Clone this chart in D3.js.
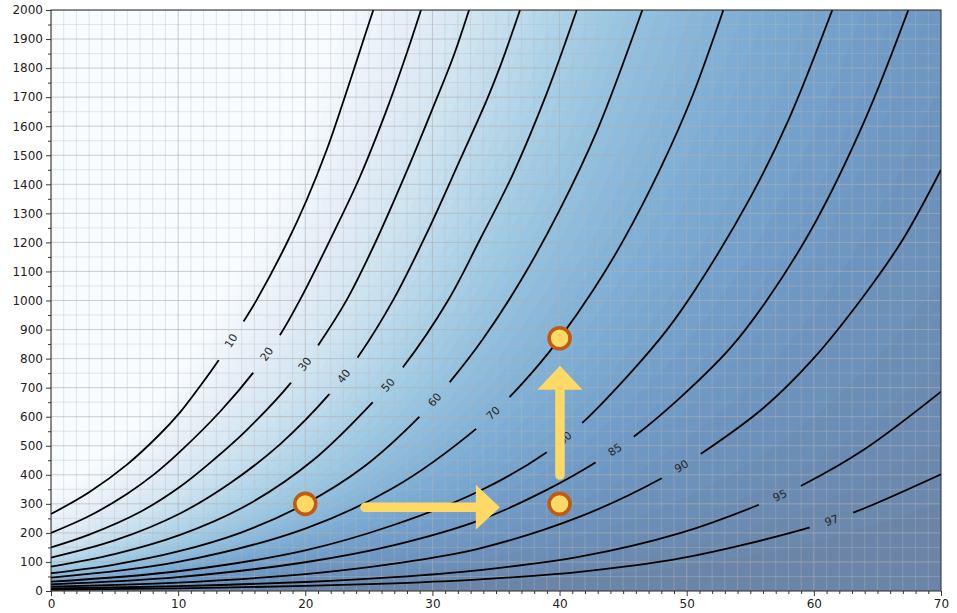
<!DOCTYPE html>
<html><head><meta charset="utf-8">
<script src="https://cdn.jsdelivr.net/npm/d3@7"></script>
<style>
body{margin:0;background:#fff}
svg{display:block}
text{font-family:"DejaVu Sans",sans-serif}
</style>
</head><body>
<svg id="chart" width="957" height="613"></svg>
<script>
// ---------------- data ----------------
const levels = [10, 20, 30, 40, 50, 60, 70, 80, 85, 90, 95, 97];
const line10 = [[0,265],[3,340],[6,436],[8.5,537],[10.15,615],[11.72,705],[13.24,798],[15.13,927],[16.18,1002],[18.54,1197],[20.11,1346],[21.68,1518],[22.99,1685],[24.3,1860],[25.35,2000]];
const line20 = [[0,200],[3,258],[6,335],[8,398],[10.15,480],[13.29,617],[15.97,755],[18.01,881],[19.58,1002],[22.2,1231],[24.3,1426],[26.4,1656],[27.98,1851],[29.1,2000]];
const line30 = [[0,150],[3,194],[7,272],[10.15,359],[12.77,451],[15.39,554],[18.93,720],[21.03,847],[23.26,1002],[25.62,1210],[27.98,1445],[30.07,1667],[31.64,1839],[32.88,2000]];
const line40 = [[0,115],[5,174],[10.15,267],[14.08,371],[18.01,505],[21.94,680],[24.17,807],[26.92,1002],[29.55,1231],[32.17,1484],[34.27,1690],[35.32,1805],[36.89,2000]];
const line50 = [[0,84],[5,127],[10.15,193],[15.39,295],[20.63,451],[25.35,652],[27.71,772],[31.25,1002],[33.74,1210],[36.36,1438],[38.99,1713],[41.35,2000]];
const line60 = [[0,61],[5,91],[10,136],[15,202],[20,300],[24.5,424],[29.02,602],[31.38,720],[34,869],[37,1072],[40,1311],[43,1590],[46.51,2000]];
const line70 = [[0,46],[10,100],[20,215],[27,357],[33.48,560],[36.1,669],[38.5,786],[39.96,867],[42.65,1036],[45,1206],[48,1461],[50.5,1710],[52.88,2000]];
const line80 = [[0,32],[10,68],[20,140],[27,228],[33.74,345],[38.99,478],[41.87,582],[45.54,749],[48.43,898],[50.65,1036],[55,1354],[58,1621],[61.45,2000]];
const line85 = [[0,23],[10,48],[20,99],[27,158],[33.74,244],[38.99,348],[42.92,445],[45.8,530],[49.47,665],[53.4,835],[56.29,1000],[60,1260],[64,1620],[67.43,2000]];
const line90 = [[0,15],[10,29],[20,58],[27,94],[33.74,147],[41.6,256],[48.03,388],[51.18,474],[56.03,630],[59.96,800],[63.89,1014],[67,1210],[70,1450]];
const line95 = [[0,9],[10,16.5],[20,31],[27,47.5],[33.74,72],[41.6,118],[49.47,199],[55.63,296],[59.12,365],[63.89,485],[70,686]];
const line97 = [[0,5],[10,9.3],[20,17.3],[27,26.5],[33.74,40],[41.6,66],[49.47,112],[59.7,219],[63.3,273],[70,402]];
const lines = [line10, line20, line30, line40, line50, line60, line70, line80, line85, line90, line95, line97];
const labelX = [14.18, 16.99, 19.98, 23.05, 26.53, 30.2, 34.79, 40.43, 44.36, 49.6, 57.34, 61.4];
const markers = [[20,300],[40,300],[40,870]];
const arrowRight = [[24.7,288],[35.3,288]];
const arrowUp = [[40.03,399],[40.03,775]];
const xTicks = [0,10,20,30,40,50,60,70];
const yTicks = d3.range(0, 2001, 100);

// ---------------- layout ----------------
const W = 957, H = 613;
const m = {left:51, right:941, top:10, bottom:591};
const x = d3.scaleLinear([0,70],[m.left,m.right]);
const y = d3.scaleLinear([0,2000],[m.bottom,m.top]);
const svg = d3.select("#chart");
const defs = svg.append("defs");
defs.append("clipPath").attr("id","plotclip").append("rect")
  .attr("x",m.left).attr("y",m.top).attr("width",m.right-m.left).attr("height",m.bottom-m.top);

// ---------------- field built from the contour readings ----------------
function yAt(pts, xv){
  let i = 0;
  if (xv >= pts[pts.length-1][0]) i = pts.length-2;
  else if (xv > pts[0][0]) { while (pts[i+1][0] < xv) i++; }
  const [xa,ya] = pts[i], [xb,yb] = pts[i+1];
  const t = (xv-xa)/(xb-xa);
  return Math.log(ya) + t*(Math.log(yb)-Math.log(ya));
}
const gx0 = -0.5, gx1 = 70.5, gy0 = -10, gy1 = 2010, gdx = 0.25, gdy = 5;
const nx = Math.round((gx1-gx0)/gdx)+1, ny = Math.round((gy1-gy0)/gdy)+1;
const vals = new Float64Array(nx*ny);
const n = levels.length;
for (let i=0;i<nx;i++){
  const xv = gx0 + i*gdx;
  const ly = lines.map(p => yAt(p, xv));
  for (let j=0;j<ny;j++){
    const yv = gy0 + j*gdy;
    const l = Math.log(Math.max(yv, 0.5));
    let v;
    if (l >= ly[0]) v = Math.max(0, levels[0] - (l-ly[0])/(ly[0]-ly[1])*(levels[1]-levels[0]));
    else if (l <= ly[n-1]) v = Math.min(100, levels[n-1] + (ly[n-1]-l)/(ly[n-2]-ly[n-1])*(levels[n-1]-levels[n-2]));
    else {
      let k = 0; while (!(ly[k] >= l && l > ly[k+1])) k++;
      v = levels[k] + (ly[k]-l)/(ly[k]-ly[k+1])*(levels[k+1]-levels[k]);
    }
    vals[j*nx+i] = v;
  }
}
const step = 2;
const thresholds = d3.range(0, 100, step);
const cont = d3.contours().size([nx,ny]).thresholds(thresholds)(vals);
const proj = d3.geoTransform({point(cx,cy){ this.stream.point(x(gx0+(cx-0.5)*gdx), y(gy0+(cy-0.5)*gdy)); }});
const gpath = d3.geoPath(proj);
const col = v => d3.interpolateRgb("#ffffff", d3.interpolateBlues(v/100))(0.6);

const plot = svg.append("g").attr("clip-path","url(#plotclip)");
plot.append("g").selectAll("path").data(cont).join("path")
  .attr("d", gpath).attr("fill", d => col(Math.min(100, d.value + step/2))).attr("stroke","none");

// ---------------- grid ----------------
const grid = plot.append("g");
grid.selectAll("line.vmin").data(d3.range(0,71,1).filter(v=>v%10)).join("line")
  .attr("x1",d=>x(d)).attr("x2",d=>x(d)).attr("y1",m.top).attr("y2",m.bottom)
  .attr("stroke","#b8b8b8").attr("stroke-opacity",0.45).attr("stroke-width",0.8);
grid.selectAll("line.hmin").data(d3.range(50,2000,100)).join("line")
  .attr("y1",d=>y(d)).attr("y2",d=>y(d)).attr("x1",m.left).attr("x2",m.right)
  .attr("stroke","#b8b8b8").attr("stroke-opacity",0.45).attr("stroke-width",0.8);
grid.selectAll("line.vmaj").data(xTicks).join("line")
  .attr("x1",d=>x(d)).attr("x2",d=>x(d)).attr("y1",m.top).attr("y2",m.bottom)
  .attr("stroke","#b0b0b0").attr("stroke-opacity",0.7).attr("stroke-width",0.9);
grid.selectAll("line.hmaj").data(yTicks).join("line")
  .attr("y1",d=>y(d)).attr("y2",d=>y(d)).attr("x1",m.left).attr("x2",m.right)
  .attr("stroke","#b0b0b0").attr("stroke-opacity",0.7).attr("stroke-width",0.9);

// ---------------- contour lines with labels ----------------
const lineGen = d3.line().x(d=>x(d[0])).y(d=>y(d[1])).curve(d3.curveCatmullRom.alpha(0.5));
const gap = 46;
const lg = plot.append("g");
lines.forEach((pts, i) => {
  const p = lg.append("path").attr("d", lineGen(pts)).attr("fill","none")
    .attr("stroke","#000").attr("stroke-width",1.8);
  const node = p.node(), total = node.getTotalLength();
  const tx = x(labelX[i]);
  let lo = 0, hi = total;
  for (let it=0; it<40; it++){ const mid=(lo+hi)/2; if (node.getPointAtLength(mid).x < tx) lo = mid; else hi = mid; }
  const L = (lo+hi)/2;
  const c = node.getPointAtLength(L);
  const a = node.getPointAtLength(Math.max(0,L-6)), b = node.getPointAtLength(Math.min(total,L+6));
  const ang = Math.atan2(b.y-a.y, b.x-a.x)*180/Math.PI;
  const mask = defs.append("mask").attr("id","m"+i).attr("maskUnits","userSpaceOnUse")
    .attr("x",0).attr("y",0).attr("width",W).attr("height",H);
  mask.append("rect").attr("x",0).attr("y",0).attr("width",W).attr("height",H).attr("fill","#fff");
  mask.append("rect").attr("x",-gap/2).attr("y",-7).attr("width",gap).attr("height",14).attr("fill","#000")
    .attr("transform",`translate(${c.x},${c.y}) rotate(${ang})`);
  p.attr("mask",`url(#m${i})`);
  lg.append("text").attr("transform",`translate(${c.x},${c.y}) rotate(${ang})`)
    .attr("text-anchor","middle").attr("dominant-baseline","central")
    .attr("font-size",11).attr("fill","#262626").text(levels[i]);
});

// ---------------- arrows and markers ----------------
const arrowCol = "#ffd966";
const headLen = 24, headHalf = 22.5;
function arrow(seg){
  const [s,e] = seg;
  const sx=x(s[0]), sy=y(s[1]), ex=x(e[0]), ey=y(e[1]);
  const dxp=ex-sx, dyp=ey-sy, len=Math.hypot(dxp,dyp), ux=dxp/len, uy=dyp/len;
  const bx=ex-ux*headLen, by=ey-uy*headLen;
  svg.append("line").attr("x1",sx).attr("y1",sy).attr("x2",bx+ux*2).attr("y2",by+uy*2)
    .attr("stroke",arrowCol).attr("stroke-width",9.5).attr("stroke-linecap","round");
  svg.append("path").attr("d",`M${ex},${ey}L${bx-uy*headHalf},${by+ux*headHalf}L${bx+uy*headHalf},${by-ux*headHalf}Z`)
    .attr("fill",arrowCol);
}
arrow(arrowRight);
arrow(arrowUp);
svg.append("g").selectAll("circle").data(markers).join("circle")
  .attr("cx",d=>x(d[0])).attr("cy",d=>y(d[1])).attr("r",10.5)
  .attr("fill",arrowCol).attr("stroke","#bf5b12").attr("stroke-width",3.6);

// ---------------- axes ----------------
const xMinor = d3.range(0,71,1).filter(v=>v%10);
const yMinor = d3.range(50,2000,100);
const xa = svg.append("g").attr("transform",`translate(0,${m.bottom})`)
  .call(d3.axisBottom(x).tickValues(xTicks).tickSize(5).tickPadding(3).tickFormat(d3.format("d")));
const xm = svg.append("g").attr("transform",`translate(0,${m.bottom})`)
  .call(d3.axisBottom(x).tickValues(xMinor).tickSize(3).tickFormat(""));
const ya = svg.append("g").attr("transform",`translate(${m.left},0)`)
  .call(d3.axisLeft(y).tickValues(yTicks).tickSize(5).tickPadding(3).tickFormat(d3.format("d")));
const ym = svg.append("g").attr("transform",`translate(${m.left},0)`)
  .call(d3.axisLeft(y).tickValues(yMinor).tickSize(3).tickFormat(""));
[xa,xm,ya,ym].forEach(g => {
  g.select(".domain").remove();
  g.selectAll(".tick line").attr("stroke","#222").attr("stroke-width",0.9);
  g.selectAll(".tick text").attr("fill","#222").attr("font-size",12).attr("font-family","DejaVu Sans, sans-serif");
});
svg.append("rect").attr("x",m.left).attr("y",m.top).attr("width",m.right-m.left).attr("height",m.bottom-m.top)
  .attr("fill","none").attr("stroke","#222").attr("stroke-width",1);
</script>
</body></html>
